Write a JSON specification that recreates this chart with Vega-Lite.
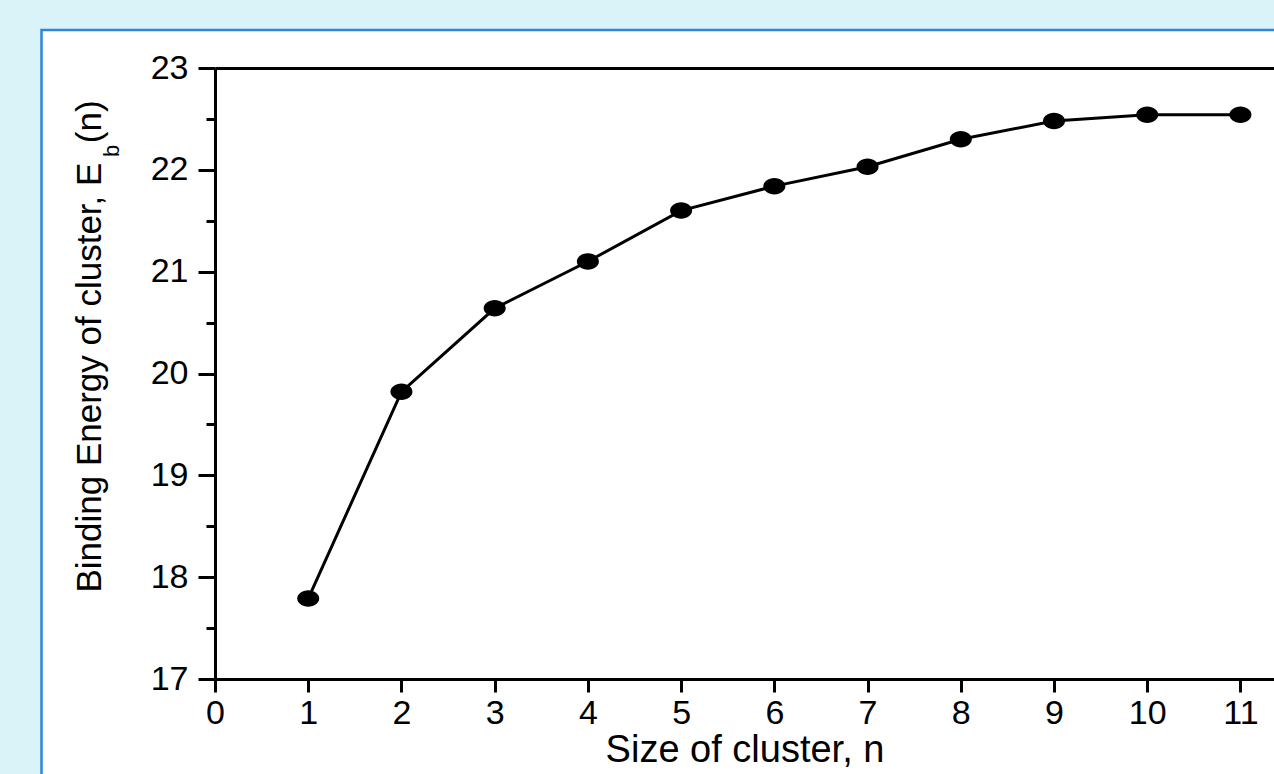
{
  "$schema": "https://vega.github.io/schema/vega-lite/v6.json",
  "autosize": {"type": "none"},
  "padding": {"left": 215, "top": 68, "right": 0, "bottom": 95},
  "width": 1059,
  "height": 611,
  "background": "#daf3f8",
  "config": {
    "view": {"stroke": null},
    "axis": {
      "labelFont": "Liberation Sans",
      "titleFont": "Liberation Sans",
      "labelColor": "#000000",
      "titleColor": "#000000",
      "domainColor": "#000000",
      "tickColor": "#000000",
      "domainWidth": 3,
      "tickWidth": 3,
      "grid": false
    }
  },
  "data": {
    "values": [
      {"n": 1, "E": 17.79},
      {"n": 2, "E": 19.82},
      {"n": 3, "E": 20.64},
      {"n": 4, "E": 21.1},
      {"n": 5, "E": 21.6},
      {"n": 6, "E": 21.84},
      {"n": 7, "E": 22.03},
      {"n": 8, "E": 22.3},
      {"n": 9, "E": 22.48},
      {"n": 10, "E": 22.54},
      {"n": 11, "E": 22.54}
    ]
  },
  "resolve": {"axis": {"x": "independent", "y": "independent"}},
  "layer": [
    {
      "data": {"values": [{}]},
      "mark": {"type": "rect", "fill": "#ffffff", "stroke": "#2f86d8", "strokeWidth": 2.5, "clip": false, "zindex": -1},
      "encoding": {
        "x": {"datum": -1.861, "type": "quantitative", "scale": {"domain": [0, 11.36], "nice": false, "zero": false}, "axis": null},
        "x2": {"datum": 12.5},
        "y": {"datum": 23.373, "type": "quantitative", "scale": {"domain": [17, 23], "nice": false, "zero": false}, "axis": null},
        "y2": {"datum": 15.5}
      }
    },
    {
      "mark": {"type": "line", "color": "#000000", "strokeWidth": 3},
      "encoding": {
        "x": {
          "field": "n", "type": "quantitative",
          "axis": {
            "orient": "bottom",
            "zindex": 2,
            "values": [0, 1, 2, 3, 4, 5, 6, 7, 8, 9, 10, 11],
            "title": "Size of cluster, n",
            "titleFontSize": 38,
            "titleFontWeight": "normal",
            "titlePadding": 1,
            "labelFontSize": 34,
            "labelPadding": 4,
            "tickSize": 13,
            "labelFlush": false
          }
        },
        "y": {
          "field": "E", "type": "quantitative",
          "axis": {
            "orient": "left",
            "zindex": 2,
            "values": [17, 18, 19, 20, 21, 22, 23],
            "title": "Binding Energy of cluster, E\u00a0\u00a0(n)",
            "titleFontSize": 35,
            "titleFontWeight": "normal",
            "titleX": -126,
            "titleY": 278,
            "titleBaseline": "middle",
            "titleAlign": "center",
            "titleAngle": 270,
            "labelFontSize": 34,
            "labelPadding": 10,
            "tickSize": 17,
            "labelFlush": false
          }
        }
      }
    },
    {
      "mark": {"type": "point", "filled": true, "color": "#000000", "opacity": 1, "size": 484, "shape": "M-1,0A1,0.75,0,1,0,1,0A1,0.75,0,1,0,-1,0Z"},
      "encoding": {
        "x": {
          "field": "n", "type": "quantitative",
          "axis": {"orient": "top", "zindex": 2, "ticks": false, "labels": false, "title": null}
        },
        "y": {
          "field": "E", "type": "quantitative",
          "axis": {"orient": "left", "zindex": 2, "values": [17.5, 18.5, 19.5, 20.5, 21.5, 22.5], "labels": false, "domain": false, "tickSize": 9, "title": null}
        }
      }
    },
    {
      "data": {"values": [{}]},
      "mark": {"type": "text", "text": "b", "angle": 270, "font": "Liberation Sans", "fontSize": 22, "align": "center", "baseline": "alphabetic", "color": "#000000"},
      "encoding": {
        "x": {"datum": -1.03, "type": "quantitative", "axis": null},
        "y": {"datum": 22.185, "type": "quantitative", "axis": null}
      }
    }
  ]
}
